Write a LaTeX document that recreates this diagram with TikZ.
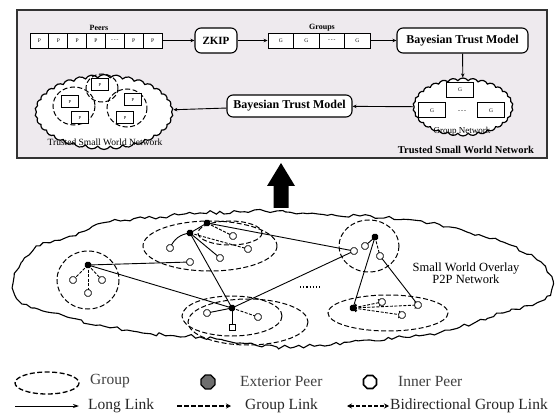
\documentclass[tikz,border=0pt]{standalone}
\usepackage{fontspec}
\setmainfont{Liberation Serif}
\usetikzlibrary{shapes.geometric,shapes.symbols,arrows.meta,decorations.pathmorphing}

\definecolor{panelbg}{HTML}{EEEAEE}
\definecolor{extgray}{HTML}{6E6E6E}

\tikzset{
  panel/.style={draw=black!80, line width=1.6, fill=panelbg},
  cell/.style={draw, line width=0.9, fill=white, minimum height=15, inner sep=0,
    font=\fontsize{5.5}{5.5}\selectfont},
  proc/.style={draw, line width=1.1, fill=white, rounded corners=6, inner sep=1,
    font=\fontsize{12}{12}\selectfont\bfseries},
  gbox/.style={draw, line width=1, fill=white, minimum width=27, minimum height=15,
    inner sep=0, font=\fontsize{5.5}{5.5}\selectfont},
  pbox/.style={draw, line width=1, fill=white, minimum width=17, minimum height=12,
    inner sep=0, font=\fontsize{4.5}{4.5}\selectfont},
  lbl/.style={font=\fontsize{8}{8}\selectfont\bfseries},
  flow/.style={line width=0.9, -{Stealth[length=4pt,width=3.5pt]}},
  puff/.style={cloud, draw, line width=1.2, fill=white, cloud puffs=34, cloud puff arc=110},
  grp/.style={line width=1, dash pattern=on 5pt off 2.5pt},
  ext/.style={regular polygon, regular polygon sides=8, fill=black, inner sep=0, minimum size=7},
  inn/.style={regular polygon, regular polygon sides=8, draw, line width=0.8, fill=white,
    inner sep=0, minimum size=7},
  llink/.style={line width=0.9},
  glink/.style={line width=0.9, dash pattern=on 3pt off 1.5pt},
  legtext/.style={anchor=west, inner sep=0, font=\fontsize{15.5}{15.5}\selectfont},
}

\begin{document}
\begin{tikzpicture}[x=1pt,y=-1pt]
  \useasboundingbox (0,0) rectangle (557,414);

  % trusted model panel
  \draw[panel] (17,10) rectangle (547,158);
  \node[lbl] (peerslbl) at (99,28) {Peers};
  \foreach \t [count=\i] in {P,P,P,P,{-\,-\,-},P,P}
    \node[cell, minimum width=18.86] (p\i) at ({30+18.86*(\i-0.5)},40.5) {\t};
  \node[lbl] (groupslbl) at (322,28) {Groups};
  \foreach \t [count=\i] in {G,G,{-\,-\,-},G}
    \node[cell, minimum width=25.5] (g\i) at ({268+25.5*(\i-0.5)},40.5) {\t};
  \node[proc, minimum width=42, minimum height=25, font=\fontsize{11}{11}\selectfont\bfseries]
    (zkip) at (216,40.5) {ZKIP};
  \node[proc, minimum width=131, minimum height=25] (bay1) at (462.5,40.5) {Bayesian Trust Model};

  \node[puff, cloud puffs=30, minimum width=100, minimum height=58] (gnet) at (463,107) {};
  \node[gbox] (gn1) at (460,90) {G};
  \node[gbox] (gn2) at (432,110.5) {G};
  \node[gbox] (gn3) at (491,110.5) {G};
  \node[font=\fontsize{6}{6}\selectfont] (gndots) at (462,112) {-\,-\,-};
  \node[font=\fontsize{9}{9}\selectfont] (gnetlbl) at (462,131) {Group Network};

  \node[proc, minimum width=125, minimum height=22] (bay2) at (289.5,106) {Bayesian Trust Model};

  \node[puff, minimum width=138, minimum height=75] (tswn) at (104,112) {};
  \draw[grp] (102,88) ellipse [x radius=16, y radius=14];
  \draw[grp] (74,106) ellipse [x radius=21, y radius=19];
  \draw[grp] (127,108) ellipse [x radius=20, y radius=19];
  \node[pbox] (tp1) at (100,85) {P};
  \node[pbox] (tp2) at (70,102) {P};
  \node[pbox] (tp3) at (133,100) {P};
  \node[pbox] (tp4) at (80,118) {P};
  \node[pbox] (tp5) at (125,118) {P};
  \node[font=\fontsize{9.5}{9.5}\selectfont] (tswnlbl) at (105,142) {Trusted Small World Network};
  \node[font=\fontsize{10.5}{10.5}\selectfont\bfseries] (panellbl) at (466,150)
    {Trusted Small World Network};

  \draw[flow] (p7) -- (zkip);
  \draw[flow] (zkip) -- (g1);
  \draw[flow] (g4) -- (bay1);
  \draw[flow] (bay1) -- (gnet);
  \draw[flow] (gnet) -- (bay2);
  \draw[flow] (bay2) -- (tswn);

  % big arrow
  \fill (281,163) -- (295,186) -- (288.5,186) -- (288.5,208) -- (273.5,208)
    -- (273.5,186) -- (267,186) -- cycle;

  % overlay network cloud
  \pgfmathsetseed{7}
  \draw[line width=1.1, decorate, decoration={random steps, segment length=5pt, amplitude=1.8pt}]
    plot[smooth cycle, tension=0.6] coordinates {(14,282) (22,262) (40,246) (60,240) (85,231)
    (110,222) (160,217) (200,213) (240,212) (277,211) (303,213) (360,216) (413,220) (470,233)
    (510,245) (537,260) (547,272) (553,284) (547,296) (537,302) (503,313) (450,330) (403,337)
    (370,340) (320,345) (277,347) (240,343) (200,337) (143,333) (100,325) (67,317) (35,308)
    (17,298)};

  % groups
  \draw[grp] (88,280) ellipse [x radius=31, y radius=29];
  \draw[grp] (210,246) ellipse [x radius=67, y radius=25];
  \draw[grp] (230,233) ellipse [x radius=32, y radius=12];
  \draw[grp] (232,316) ellipse [x radius=50, y radius=20];
  \draw[grp] (248,322) ellipse [x radius=60, y radius=23];
  \draw[grp] (369,246) ellipse [x radius=30, y radius=26];
  \draw[grp] (388,313) ellipse [x radius=60, y radius=18];

  \coordinate (e1) at (88,265);
  \coordinate (a1) at (73,280);
  \coordinate (a2) at (102,280);
  \coordinate (a3) at (88,293);
  \coordinate (e2) at (190,233);
  \coordinate (e2b) at (207,223);
  \coordinate (b1) at (170,248);
  \coordinate (b2) at (190,262);
  \coordinate (b3) at (220,258);
  \coordinate (b4) at (248,249);
  \coordinate (b5) at (233,236);
  \coordinate (e3) at (232,308);
  \coordinate (c1) at (207,313);
  \coordinate (c2) at (232,327);
  \coordinate (c3) at (258,317);
  \coordinate (e4) at (375,237);
  \coordinate (d1) at (354,251);
  \coordinate (d2) at (365,246);
  \coordinate (d3) at (380,256);
  \coordinate (e5) at (353,308);
  \coordinate (f1) at (382,302);
  \coordinate (f2) at (418,305);
  \coordinate (f3) at (402,315);

  % long links
  \draw[llink] (e1) -- (b2);
  \draw[llink] (e1) -- (e3);
  \draw[llink] (e2) -- (e3);
  \draw[llink] (e2b) -- (d1);
  \draw[llink] (e3) -- (d1);
  \draw[llink] (e4) -- (e5);
  \draw[llink] (d3) -- (f2);
  \draw[llink] (e3) -- (c1);
  \draw[llink] (e3) -- (c2);
  \draw[llink] (e2) to[bend right=30] (b1);
  \draw[llink] (e2) -- (b3);
  \draw[llink] (e2b) -- (e2);
  \draw[llink] (e4) -- (d2);
  % group links
  \draw[glink] (e1) -- (a1);
  \draw[glink] (e1) -- (a2);
  \draw[glink] (e1) -- (a3);
  \draw[glink] (e2) -- (b4);
  \draw[glink] (e2b) -- (b5);
  \draw[glink] (e3) -- (c3);
  \draw[glink] (e4) -- (d3);
  \draw[glink, <->] (e5) -- (f1);
  \draw[glink, <->] (e5) -- (f2);
  \draw[glink, <->] (e5) -- (f3);
  \draw[line width=1.2, dotted] (300,287) -- (322,287);

  \foreach \n in {e1,e2,e2b,e3,e4,e5}
    \node[ext] at (\n) {};
  \foreach \n in {a1,a2,a3,b1,b2,b3,b4,b5,c1,c3,d1,d2,d3,f1,f2,f3}
    \node[inn] at (\n) {};
  \node[draw, line width=0.8, fill=white, minimum size=6, inner sep=0] at (c2) {};

  \node[font=\fontsize{12.5}{12.5}\selectfont, align=center] (swlbl) at (466,273)
    {Small World Overlay\\P2P Network};

  % legend
  \draw[grp, line width=1.3] (47,383) ellipse [x radius=32, y radius=11];
  \node[legtext, text=black!75] (lg1) at (90,381) {Group};
  \node[regular polygon, regular polygon sides=8, draw, line width=1.3, fill=extgray,
    minimum size=15, inner sep=0] (lgext) at (208,382) {};
  \node[legtext, text=black!75] (lg2) at (240,381) {Exterior Peer};
  \node[regular polygon, regular polygon sides=8, draw, line width=1.6, fill=white,
    minimum size=14, inner sep=0] (lginn) at (370,382) {};
  \node[legtext, text=black!75] (lg3) at (398,381) {Inner Peer};

  \coordinate (l1a) at (15,406);
  \coordinate (l1b) at (79,406);
  \coordinate (l2a) at (177,406);
  \coordinate (l2b) at (231,406);
  \coordinate (l3a) at (347,406);
  \coordinate (l3b) at (389,406);
  \draw[line width=1, -{Stealth[length=6pt,width=4pt]}] (l1a) -- (l1b);
  \draw[line width=2, dash pattern=on 5pt off 2pt, -{Stealth[length=5pt,width=5pt]}] (l2a) -- (l2b);
  \draw[line width=2, dash pattern=on 4pt off 2pt, {Stealth[length=5pt,width=5pt]}-{Stealth[length=5pt,width=5pt]}] (l3a) -- (l3b);
  \node[legtext, text=black!85] (lg4) at (88,406) {Long Link};
  \node[legtext, text=black!85] (lg5) at (245,406) {Group Link};
  \node[legtext, text=black!85] (lg6) at (390,406) {Bidirectional Group Link};
\end{tikzpicture}
\end{document}
